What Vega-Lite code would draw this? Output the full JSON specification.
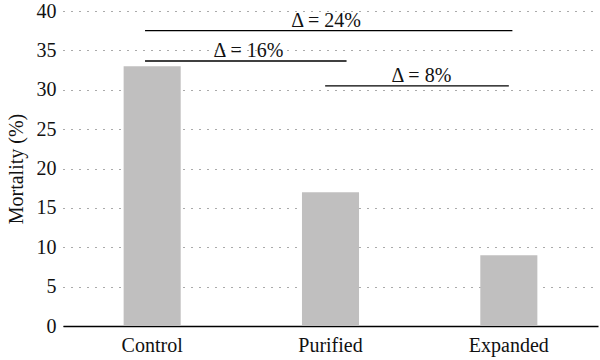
{
  "$schema": "https://vega.github.io/schema/vega-lite/v6.json",
  "width": 535,
  "height": 315,
  "autosize": {"type": "none"},
  "padding": {"left": 63, "top": 11, "right": 2, "bottom": 34},
  "config": {
    "view": {"stroke": null},
    "font": "Liberation Serif",
    "text": {"font": "Liberation Serif"},
    "axis": {"labelFont": "Liberation Serif", "titleFont": "Liberation Serif", "labelColor": "#111", "titleColor": "#111"},
    "axisY": {"values": [0,5,10,15,20,25,30,35,40], "labelFontSize": 20, "titleFontSize": 20, "titleFontWeight": "normal", "titlePadding": 10, "labelPadding": 7, "ticks": false, "domain": false, "grid": true, "gridColor": "#555", "gridDash": [1, 7], "gridWidth": 1}
  },
  "datasets": {
    "bars": [
      {"group": "Control", "mortality": 33},
      {"group": "Purified", "mortality": 17},
      {"group": "Expanded", "mortality": 9}
    ],
    "deltas": [
      {"label": "Δ = 24%", "start": 0.46, "end": 2.52, "level": 37.5, "mid": 1.475},
      {"label": "Δ = 16%", "start": 0.46, "end": 1.59, "level": 33.65, "mid": 1.04},
      {"label": "Δ = 8%", "start": 1.47, "end": 2.5, "level": 30.5, "mid": 2.01}
    ]
  },
  "layer": [
    {
      "data": {"name": "bars"},
      "mark": {"type": "bar", "color": "#c0bfbf"},
      "encoding": {
        "x": {
          "field": "group", "type": "nominal", "sort": null,
          "scale": {"paddingInner": 0.68, "paddingOuter": 0.34},
          "axis": {"title": null, "labelAngle": 0, "labelFontSize": 20, "labelPadding": 9, "ticks": false, "domainColor": "#000", "domainWidth": 1.5, "grid": false}
        },
        "y": {
          "field": "mortality", "type": "quantitative",
          "scale": {"domain": [0, 40]},
          "axis": {"title": "Mortality (%)", "values": [0,5,10,15,20,25,30,35,40]}
        }
      }
    },
    {
      "data": {"name": "deltas"},
      "mark": {"type": "rule", "color": "#000", "strokeWidth": 1.3},
      "encoding": {
        "x": {"field": "start", "type": "quantitative", "scale": {"domain": [0, 3]}, "axis": null},
        "x2": {"field": "end"},
        "y": {"field": "level", "type": "quantitative", "axis": {"title": "Mortality (%)", "values": [0,5,10,15,20,25,30,35,40]}}
      }
    },
    {
      "data": {"name": "deltas"},
      "mark": {"type": "text", "fontSize": 20, "baseline": "bottom", "dy": 0, "color": "#111", "font": "Liberation Serif"},
      "encoding": {
        "x": {"field": "mid", "type": "quantitative", "scale": {"domain": [0, 3]}, "axis": null},
        "y": {"field": "level", "type": "quantitative", "axis": {"title": "Mortality (%)", "values": [0,5,10,15,20,25,30,35,40]}},
        "text": {"field": "label"}
      }
    }
  ],
  "resolve": {"scale": {"x": "independent"}}
}
